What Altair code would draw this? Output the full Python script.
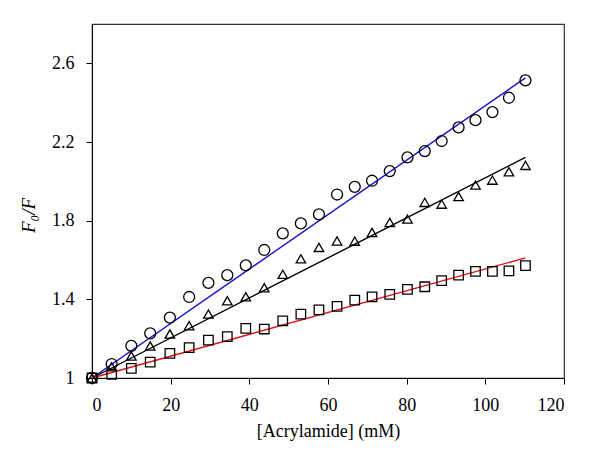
import altair as alt
import pandas as pd

# Acrylamide concentration (mM)
conc = [0, 5.0, 10.0, 14.8, 19.8, 24.7, 29.6, 34.4, 39.1, 43.8, 48.5, 53.1, 57.7,
        62.3, 66.8, 71.2, 75.7, 80.2, 84.6, 88.9, 93.2, 97.5, 101.8, 106.0, 110.2]

circles = [1.0, 1.071, 1.163, 1.227, 1.307, 1.412, 1.484, 1.523, 1.573, 1.651, 1.735, 1.786, 1.832,
           1.933, 1.972, 2.003, 2.052, 2.122, 2.154, 2.205, 2.274, 2.311, 2.352, 2.425, 2.513]
triangles = [1.0, 1.057, 1.112, 1.163, 1.224, 1.266, 1.325, 1.393, 1.413, 1.459, 1.527, 1.606, 1.664,
             1.697, 1.696, 1.740, 1.791, 1.808, 1.893, 1.884, 1.923, 1.981, 2.006, 2.049, 2.081]
squares = [1.0, 1.019, 1.049, 1.081, 1.125, 1.154, 1.193, 1.210, 1.252, 1.249, 1.291, 1.325, 1.346,
           1.364, 1.396, 1.413, 1.425, 1.451, 1.464, 1.495, 1.523, 1.542, 1.542, 1.545, 1.571]

# fitted lines (endpoints)
fit_x = [0, 110.2]
fit_blue = [1.0, 2.526]
fit_black = [1.0, 2.122]
fit_red = [1.0, 1.611]

x_ticks = [0, 20, 40, 60, 80, 100, 120]
y_ticks = [1, 1.4, 1.8, 2.2, 2.6]

FONT = "Liberation Serif"

xs = alt.Scale(domain=[0, 120], nice=False, zero=False)
ys = alt.Scale(domain=[1, 2.8], nice=False, zero=False)

xax = alt.Axis(values=x_ticks, title="[Acrylamide] (mM)", grid=False, tickSize=6,
               labelPadding=12, titlePadding=8, labelFontSize=18, titleFontSize=18,
               labelFont=FONT, titleFont=FONT, labelColor="black", titleColor="black",
               titleFontWeight="normal", domainColor="black", tickColor="black")
yax = alt.Axis(values=y_ticks, title="F₀/F", grid=False, tickSize=6,
               labelPadding=12, titlePadding=13, labelFontSize=18, titleFontSize=19,
               labelFont=FONT, titleFont=FONT, titleFontStyle="italic", titleY=191,
               labelColor="black", titleColor="black", titleFontWeight="normal",
               domainColor="black", tickColor="black",
               labelExpr="datum.value == 1 ? '1' : format(datum.value, '.1f')")

def points(vals, shape, size):
    df = pd.DataFrame({"x": conc, "y": vals})
    return alt.Chart(df).mark_point(shape=shape, size=size, filled=False, color="black",
                                    strokeWidth=1.3, opacity=1).encode(
        x=alt.X("x:Q", scale=xs, axis=xax),
        y=alt.Y("y:Q", scale=ys, axis=yax),
    )

def fitline(vals, color):
    df = pd.DataFrame({"x": fit_x, "y": vals})
    return alt.Chart(df).mark_line(color=color, strokeWidth=1.4).encode(
        x=alt.X("x:Q", scale=xs, axis=xax),
        y=alt.Y("y:Q", scale=ys, axis=yax),
    )

chart = alt.layer(
    fitline(fit_blue, "#1010cc"),
    fitline(fit_black, "black"),
    fitline(fit_red, "#e01010"),
    points(circles, "circle", 120),
    points(triangles, "triangle-up", 90),
    points(squares, "square", 90),
).properties(
    width=472, height=354,
    autosize=alt.AutoSizeParams(type="none"),
    padding={"left": 84, "top": 16, "right": 28, "bottom": 70},
).configure_view(stroke="#333333", strokeWidth=1.2)

chart.save("out.html", embed_options={"renderer": "svg", "actions": False})
